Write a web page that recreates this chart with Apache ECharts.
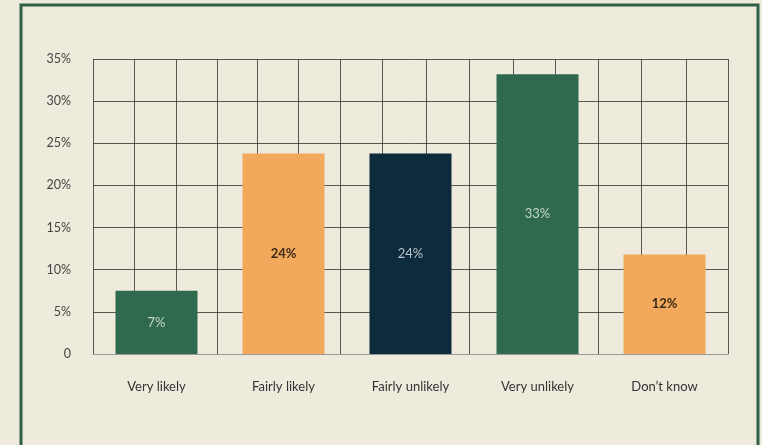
<!DOCTYPE html>
<html>
<head>
<meta charset="utf-8">
<script src="https://cdn.jsdelivr.net/npm/echarts@6/dist/echarts.min.js"></script>
<style>
  html, body { margin: 0; padding: 0; background: #eeeadc; }
  #main { width: 762px; height: 445px; }
</style>
</head>
<body>
<div id="main"></div>
<script>
// data
var categories = ['Very likely', 'Fairly likely', 'Fairly unlikely', 'Very unlikely', "Don\u2019t know"];
var shares = [7.5, 23.8, 23.8, 33.2, 11.8];
var shareLabels = ['7%', '24%', '24%', '33%', '12%'];
var barColors = ['#2f6a4e', '#f2a95b', '#0d2b3d', '#2f6a4e', '#f2a95b'];
var labelColors = ['#c5d6cb', '#3a2a18', '#b9c2c8', '#c5d6cb', '#3a2a18'];
var labelBold = [false, true, false, false, true];
// the vertical grid lines are not evenly spaced in the reference
var vGrid = [0, 41, 83, 124, 164, 205, 247, 289, 333, 376, 420, 462, 505, 548, 593, 635];

var chart = echarts.init(document.getElementById('main'));

var barData = shares.map(function (v, i) {
    return {
        value: v,
        itemStyle: { color: barColors[i] },
        label: { formatter: shareLabels[i], color: labelColors[i], fontWeight: labelBold[i] ? 'bold' : 'normal' }
    };
});

var gridLine = { color: 'rgba(50,50,50,0.8)', width: 1 };

chart.setOption({
    backgroundColor: '#eeeadc',
    animation: false,
    textStyle: { fontFamily: 'Lato, "Open Sans", sans-serif' },
    graphic: [{
        type: 'rect',
        shape: { x: 21, y: 5, width: 737, height: 460 },
        style: { fill: 'none', stroke: '#30604a', lineWidth: 3 }
    }],
    grid: { left: 93, right: 34, top: 59, bottom: 91, containLabel: false },
    xAxis: [{
        type: 'category',
        data: categories,
        axisLine: { show: true, lineStyle: { color: '#999', width: 1 } },
        axisTick: { show: false },
        splitLine: { show: false },
        axisLabel: { color: '#333', fontSize: 13, margin: 26 }
    }, {
        type: 'value',
        min: 0,
        max: 635,
        show: true,
        position: 'top',
        axisLine: { show: false },
        axisLabel: { show: false },
        axisTick: { show: false, customValues: vGrid },
        splitLine: { show: true, lineStyle: gridLine }
    }],
    yAxis: {
        type: 'value',
        min: 0,
        max: 35,
        interval: 5,
        axisLine: { show: false },
        axisTick: { show: false },
        splitLine: { show: true, lineStyle: gridLine },
        axisLabel: {
            color: '#444',
            fontSize: 12.5,
            margin: 22,
            formatter: function (v) { return v === 0 ? '0' : v + '%'; }
        }
    },
    series: [{
        type: 'bar',
        xAxisIndex: 0,
        barWidth: 82,
        data: barData,
        label: { show: true, position: 'inside', fontSize: 13 },
        z: 3
    }]
});
</script>
</body>
</html>
